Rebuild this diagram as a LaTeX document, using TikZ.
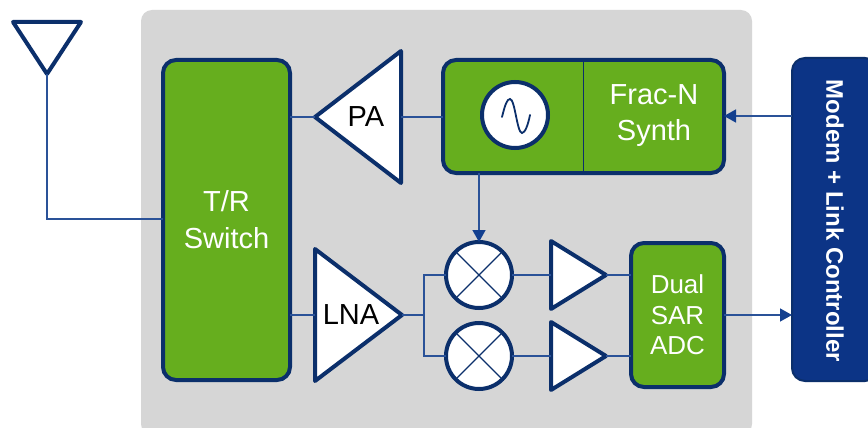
\documentclass[tikz,border=0pt]{standalone}
\usepackage{fontspec}
\setmainfont{Liberation Sans}
\usepackage{xcolor}
\usetikzlibrary{shapes.geometric, arrows.meta, positioning, calc}
\definecolor{navy}{HTML}{0B2F6B}
\definecolor{wire}{HTML}{2A5298}
\definecolor{tipblue}{HTML}{123F8F}
\definecolor{modemblue}{HTML}{0C3486}
\definecolor{leaf}{HTML}{66AE1E}
\definecolor{panel}{HTML}{D6D6D6}
\tikzstyle{block} = [rectangle, rounded corners=13pt, draw=navy, line width=4pt, fill=leaf, text=white, align=center, outer sep=0pt, font=\fontsize{29}{37}\selectfont]
\tikzstyle{amp} = [isosceles triangle, isosceles triangle stretches, draw=navy, line width=4pt, line join=round, fill=white, inner sep=0pt, outer sep=0pt, font=\fontsize{29}{34}\selectfont]
\tikzstyle{mixer} = [circle, draw=navy, line width=4pt, fill=white, minimum size=66pt, inner sep=0pt, outer sep=0pt]
\tikzstyle{wired} = [draw=wire, line width=1.4pt]
\tikzstyle{arrow} = [wired, -{Triangle[length=12pt,width=13pt,color=tipblue]}]

\begin{document}
\begin{tikzpicture}[x=1pt, y=-1pt]
\clip (0,0) rectangle (868,428);
\fill[white] (0,0) rectangle (868,428);

% Panel
\node (panel) [rectangle, rounded corners=11pt, fill=panel, minimum width=611pt, minimum height=425pt, outer sep=0pt] at (446.5,222.5) {};

% Main blocks
\node (antenna) [amp, shape border rotate=270, minimum width=68pt, minimum height=52pt, anchor=apex] at (47,74) {};
\node (switch) [block, minimum width=127pt, minimum height=320pt] at (226.5,220) {T/R\\Switch};
\node (pa) [amp, shape border rotate=180, minimum width=132pt, minimum height=86pt, anchor=apex] at (315,117) {};
\node (pa_text) at (366,117) [font=\fontsize{29}{34}\selectfont] {PA};
\node (lna) [amp, minimum width=132pt, minimum height=87pt, anchor=apex] at (402,315) {};
\node (lna_text) at (351,315) [font=\fontsize{29}{34}\selectfont] {LNA};
\node (synth) [block, minimum width=281pt, minimum height=113pt] at (583.5,116.5) {};
\node (synth_text) at (654,116) [text=white, align=center, font=\fontsize{29}{36}\selectfont] {Frac-N\\Synth};
\node (osc) [mixer] at (515,115) {};
\node (adc) [block, minimum width=93pt, minimum height=144pt, font=\fontsize{26}{30.5}\selectfont] at (677.5,315) {Dual\\SAR\\ADC};
\node (modem) [rectangle, rounded corners=13pt, draw=navy, line width=2pt, fill=modemblue, minimum width=86pt, minimum height=323pt, outer sep=0pt] at (835,219.5) {};
\node (modem_text) at (835,221) [rotate=270, text=white, font=\bfseries\fontsize{24}{28}\selectfont] {Modem + Link Controller};

% Mixers and baseband amps
\foreach \name/\ypos in {i/275, q/356} {
  \node (mix_\name) [mixer] at (479,\ypos) {};
  \draw [navy, line width=1.4pt] (mix_\name.45) -- (mix_\name.225);
  \draw [navy, line width=1.4pt] (mix_\name.135) -- (mix_\name.315);
  \node (bb_\name) [amp, minimum width=68pt, minimum height=55pt, anchor=apex] at (606,\ypos) {};
}

% Sine
\draw [navy, line width=1.8pt, line cap=round] (502,117) .. controls (505,105) and (507,99) .. (510,99) .. controls (515,99) and (517,133) .. (522,133) .. controls (525,133) and (528,125) .. (530,115);
\draw [navy, line width=1.6pt] (synth.north) -- (synth.south);

% Arrows
\draw [wired] (antenna.apex) |- (switch.west |- 0,219);
\draw [wired] (switch.east |- pa.apex) -- (pa.apex);
\draw [wired] (pa.lower side) -- (synth.west |- pa.lower side);
\draw [wired] (switch.east |- lna.apex) -- (lna.lower side);
\draw [wired] (lna.apex) -- ++(22,0) |- (mix_i.west);
\draw [wired] (lna.apex) -- ++(22,0) |- (mix_q.west);
\draw [wired] (mix_i.east) -- (mix_i.east -| bb_i.lower side);
\draw [wired] (mix_q.east) -- (mix_q.east -| bb_q.lower side);
\draw [wired] (bb_i.apex) -- (adc.west |- bb_i.apex);
\draw [wired] (bb_q.apex) -- (adc.west |- bb_q.apex);
\draw [arrow] (synth.south -| mix_i.north) -- (mix_i.north);
\draw [arrow] (modem.west |- 0,116) -- (synth.east |- 0,116);
\draw [arrow] (adc.east) -- (modem.west |- adc.east);

\end{tikzpicture}
\end{document}
